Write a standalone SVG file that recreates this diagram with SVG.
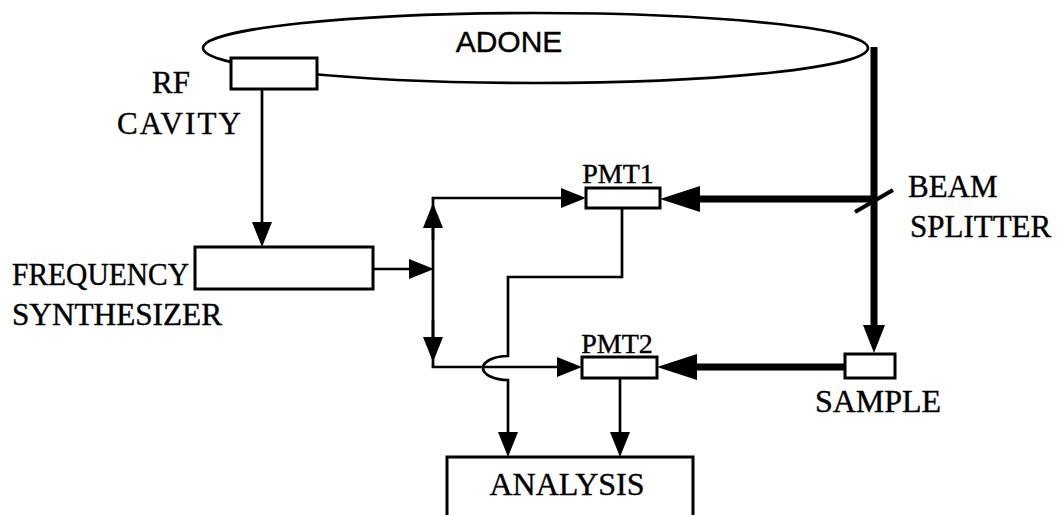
<svg xmlns="http://www.w3.org/2000/svg" width="1059" height="515" viewBox="0 0 1059 515">
<style>
.box{fill:#fff;stroke:#000;stroke-width:3}
.ln{fill:none;stroke:#000;stroke-width:2.7}
.thick{fill:none;stroke:#000;stroke-width:7}
.lbl{font-family:"Liberation Serif","Times New Roman",serif;fill:#000;stroke:#000;stroke-width:0.4}
.sans{font-family:"Liberation Sans",Arial,sans-serif;fill:#000;stroke:#000;stroke-width:0.4}
</style>
<defs>
<marker id="arr" markerUnits="userSpaceOnUse" markerWidth="27" markerHeight="22" refX="1" refY="10" orient="auto">
<path d="M0,0 L25,10 L0,20 z" fill="#000"/>
</marker>
<marker id="big" markerUnits="userSpaceOnUse" markerWidth="42" markerHeight="28" refX="1" refY="13" orient="auto">
<path d="M0,0 L40,13 L0,26 z" fill="#000"/>
</marker>
<marker id="bigv" markerUnits="userSpaceOnUse" markerWidth="30" markerHeight="24" refX="1" refY="11" orient="auto">
<path d="M0,0 L28,11 L0,22 z" fill="#000"/>
</marker>
</defs>
<rect width="1059" height="515" fill="#fff"/>

<g id="connectors">
<line class="ln" x1="262" y1="89" x2="262" y2="223" marker-end="url(#arr)"/>
<line class="ln" x1="373" y1="269" x2="410" y2="269" marker-end="url(#arr)"/>
<line class="ln" x1="433" y1="198" x2="433" y2="367"/>
<line class="ln" x1="433" y1="240" x2="433" y2="227" marker-end="url(#arr)"/>
<line class="ln" x1="431.7" y1="198" x2="562" y2="198" marker-end="url(#arr)"/>
<line class="ln" x1="433" y1="320" x2="433" y2="338" marker-end="url(#arr)"/>
<line class="ln" x1="431.7" y1="367" x2="558" y2="367" marker-end="url(#arr)"/>
<path class="ln" d="M622,208 V277 H508 V356 A25 12 0 0 0 508 380 V433" marker-end="url(#arr)"/>
<line class="ln" x1="620" y1="378" x2="620" y2="433" marker-end="url(#arr)"/>
<line class="thick" x1="874" y1="47" x2="874" y2="326" marker-end="url(#bigv)"/>
<line class="thick" x1="874" y1="199" x2="699" y2="199" marker-end="url(#big)"/>
<line class="thick" x1="845" y1="367" x2="696" y2="367" marker-end="url(#big)"/>
<line x1="855" y1="212" x2="893" y2="190" stroke="#000" stroke-width="4"/>
</g>

<g id="adone">
<ellipse cx="535.5" cy="48" rx="332.5" ry="35" fill="none" stroke="#000" stroke-width="2.7"/>
<text class="sans" x="509" y="52" font-size="30" text-anchor="middle">ADONE</text>
</g>

<g id="rf-cavity">
<rect class="box" x="231" y="58" width="86" height="31"/>
<text class="lbl" x="152" y="93" font-size="31">RF</text>
<text class="lbl" x="117" y="134" font-size="31" textLength="124" lengthAdjust="spacing">CAVITY</text>
</g>

<g id="frequency-synthesizer">
<rect class="box" x="195" y="247" width="178" height="42"/>
<text class="lbl" x="12" y="285" font-size="31" textLength="177" lengthAdjust="spacingAndGlyphs">FREQUENCY</text>
<text class="lbl" x="12" y="325" font-size="31" textLength="210" lengthAdjust="spacingAndGlyphs">SYNTHESIZER</text>
</g>

<g id="pmt1">
<rect class="box" x="586" y="188" width="74" height="20"/>
<text class="lbl" x="618" y="183" font-size="28" text-anchor="middle">PMT1</text>
</g>

<g id="pmt2">
<rect class="box" x="582" y="357" width="75" height="21"/>
<text class="lbl" x="617" y="353" font-size="28" text-anchor="middle">PMT2</text>
</g>

<g id="beam-splitter">
<text class="lbl" x="908" y="197" font-size="31">BEAM</text>
<text class="lbl" x="910" y="237" font-size="31">SPLITTER</text>
</g>

<g id="sample">
<rect class="box" x="845" y="354" width="50" height="24"/>
<text class="lbl" x="878" y="412" font-size="32" text-anchor="middle">SAMPLE</text>
</g>

<g id="analysis">
<rect class="box" x="447" y="457" width="246" height="70"/>
<text class="lbl" x="567" y="495" font-size="32" text-anchor="middle">ANALYSIS</text>
</g>
</svg>
